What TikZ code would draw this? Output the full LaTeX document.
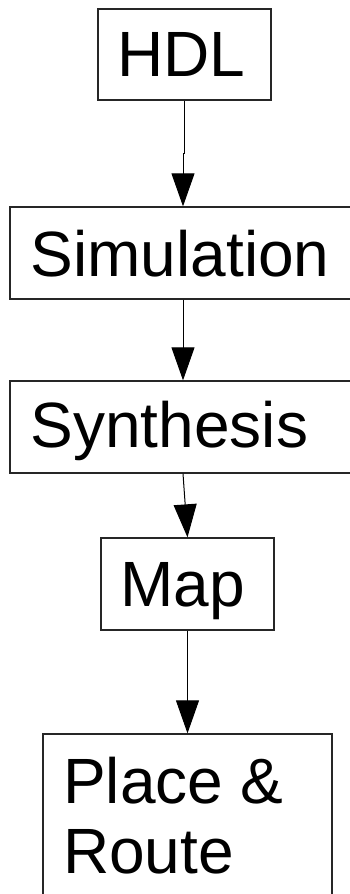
\documentclass[tikz,border=0pt]{standalone}
\usepackage{fontspec}
\setmainfont{Liberation Sans}
\usetikzlibrary{arrows.meta}

\begin{document}
\begin{tikzpicture}[x=1pt,y=1pt,
  stagebox/.style={draw=black!85, line width=1.3pt, rectangle, inner sep=0pt},
  stagetext/.style={anchor=base west, inner sep=0pt, font=\fontsize{64}{70}\selectfont},
  flow/.style={draw=black, line width=1pt, -{Triangle[width=23pt,length=33pt]}}]

  % canvas
  \clip (0,0) rectangle (350,-894);
  \fill[white] (0,0) rectangle (350,-894);

  % stage boxes
  \node[stagebox, minimum width=173pt, minimum height=91pt] (hdl) at (184.5,-54.5) {};
  \node[stagebox, minimum width=348pt, minimum height=92pt] (sim) at (184,-253) {};
  \node[stagebox, minimum width=348pt, minimum height=92pt] (syn) at (184,-427) {};
  \node[stagebox, minimum width=173pt, minimum height=92pt] (map) at (187.5,-584) {};
  \node[stagebox, minimum width=289pt, minimum height=190pt] (pr)  at (187.5,-829) {};

  % stage names
  \node[stagetext] (thdl) at (117,-76) {HDL};
  \node[stagetext] (tsim) at (30.5,-276) {Simulation};
  \node[stagetext] (tsyn) at (30.5,-447) {Synthesis};
  \node[stagetext] (tmap) at (120,-606) {Map};
  \node[stagetext] (tpr1) at (63,-803) {Place \&};
  \node[stagetext] (tpr2) at (63,-873) {Route};

  % flow arrows
  \draw[flow] (hdl.south) -- ++(0,-53) -- ++(-1.5,0) -- ([xshift=-1pt]sim.north);
  \draw[flow] ([xshift=-1pt]sim.south) -- ([xshift=-1pt]syn.north);
  \draw[flow] ([xshift=-1pt]syn.south) -- (map.north);
  \draw[flow] (map.south) -- (pr.north);
\end{tikzpicture}
\end{document}
